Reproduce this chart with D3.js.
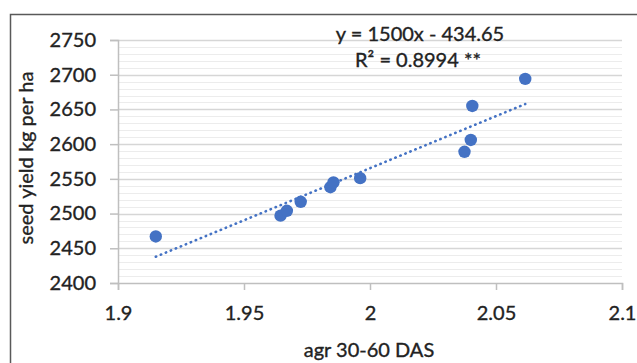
<!DOCTYPE html>
<html>
<head>
<meta charset="utf-8">
<script src="https://cdn.jsdelivr.net/npm/d3@7"></script>
<style>
  html, body { margin: 0; padding: 0; background: #fff; }
  svg { display: block; }
  text { font-family: Lato, "Open Sans", sans-serif; fill: #222; stroke: #222; stroke-width: 0.35px; }
</style>
</head>
<body>
<div id="chart"></div>
<script>
// ---------- data ----------
const agr = [1.915, 1.9645, 1.967, 1.9725, 1.9843, 1.9855, 1.9961, 2.0375, 2.040, 2.0406, 2.0616];
const seedYield = [2467, 2497, 2504, 2517, 2538, 2545, 2551, 2589, 2606, 2655, 2694];
const yTicks = [2400, 2450, 2500, 2550, 2600, 2650, 2700, 2750];
const xTicks = [1.9, 1.95, 2, 2.05, 2.1];
const trendCoef = [1500, -434.65];   // slope, intercept
const eqLabel = 'y = 1500x - 434.65';
const r2Label = 'R² = 0.8994 **';
const xTitle = 'agr 30-60 DAS';
const yTitle = 'seed yield kg per ha';

const W = 637, H = 363;
const margin = { top: 40, right: 15, bottom: 80, left: 118 };
const color = '#4472C4';

const svg = d3.select('#chart').append('svg')
  .attr('width', W)
  .attr('height', H);

// outer chart border (only top/left visible in the frame)
svg.append('rect')
  .attr('x', 10.5).attr('y', 14.5)
  .attr('width', W + 20).attr('height', H + 20)
  .attr('fill', '#fff')
  .attr('stroke', '#595959')
  .attr('stroke-width', 1.5);

const x = d3.scaleLinear().domain([1.9, 2.1]).range([margin.left, W - margin.right]);
const y = d3.scaleLinear().domain([2400, 2750]).range([H - margin.bottom, margin.top]);

/* ---------- grid lines ---------- */
const minor = d3.range(2400, 2751, 10).filter(v => v % 50 !== 0);
svg.append('g').selectAll('line').data(minor).enter().append('line')
  .attr('x1', x(1.9)).attr('x2', x(2.1))
  .attr('y1', d => Math.round(y(d)) + 0.5).attr('y2', d => Math.round(y(d)) + 0.5)
  .attr('stroke', '#ececec').attr('stroke-width', 1);

svg.append('g').selectAll('line').data(yTicks.slice(1)).enter().append('line')
  .attr('x1', x(1.9)).attr('x2', x(2.1))
  .attr('y1', d => Math.round(y(d)) + 0.5).attr('y2', d => Math.round(y(d)) + 0.5)
  .attr('stroke', '#d6d6d6').attr('stroke-width', 1.5);

/* ---------- axes ---------- */
const yAxis = svg.append('g')
  .attr('transform', `translate(${x(1.9)},0)`)
  .call(d3.axisLeft(y).tickValues(yTicks).tickSize(8).tickPadding(14).tickFormat(d3.format('d')));
const xAxis = svg.append('g')
  .attr('transform', `translate(0,${y(2400)})`)
  .call(d3.axisBottom(x).tickValues(xTicks).tickSize(7).tickPadding(16).tickFormat(d => String(d)));

[yAxis, xAxis].forEach(a => {
  a.select('.domain').attr('stroke', '#bfbfbf').attr('stroke-width', 1.5);
  a.selectAll('.tick line').attr('stroke', '#bfbfbf').attr('stroke-width', 1.5);
  a.selectAll('.tick text').attr('fill', '#222').attr('stroke', '#222').attr('stroke-width', 0.35)
    .style('font-size', '20px').style('font-family', 'Lato, sans-serif');
});

/* ---------- trendline ---------- */
const xExt = d3.extent(agr);
svg.append('line')
  .attr('x1', x(xExt[0])).attr('y1', y(trendCoef[0] * xExt[0] + trendCoef[1]))
  .attr('x2', x(xExt[1])).attr('y2', y(trendCoef[0] * xExt[1] + trendCoef[1]))
  .attr('stroke', color)
  .attr('stroke-width', 2.6)
  .attr('stroke-linecap', 'round')
  .attr('stroke-dasharray', '0.4,5');

/* ---------- points ---------- */
svg.append('g').selectAll('circle').data(agr).enter().append('circle')
  .attr('cx', d => x(d))
  .attr('cy', (d, i) => y(seedYield[i]))
  .attr('r', 6.2)
  .attr('fill', color);

/* ---------- equation text ---------- */
svg.append('text')
  .attr('x', 420).attr('y', 41)
  .attr('text-anchor', 'middle')
  .style('font-size', '20px')
  .text(eqLabel);
svg.append('text')
  .attr('x', 418).attr('y', 67)
  .attr('text-anchor', 'middle')
  .style('font-size', '20px')
  .text(r2Label);

/* ---------- axis titles ---------- */
svg.append('text')
  .attr('x', 369).attr('y', 357)
  .attr('text-anchor', 'middle')
  .style('font-size', '20px')
  .text(xTitle);
svg.append('text')
  .attr('transform', 'translate(33,158) rotate(-90)')
  .attr('text-anchor', 'middle')
  .style('font-size', '20px')
  .text(yTitle);
</script>
</body>
</html>
